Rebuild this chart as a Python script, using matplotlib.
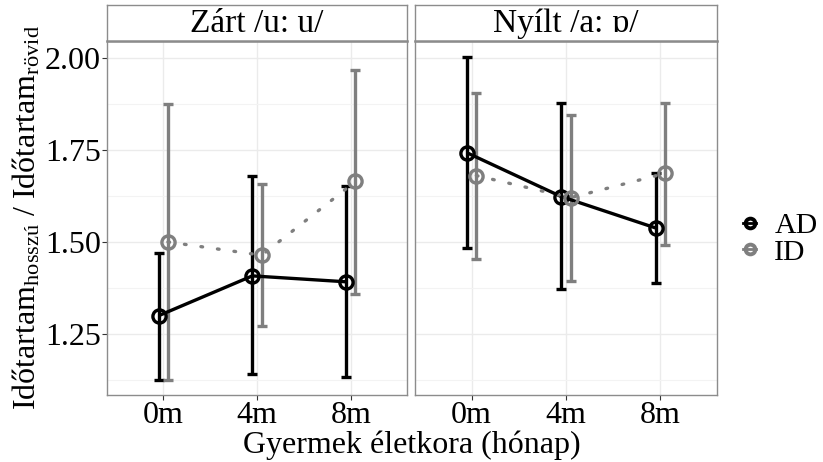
import matplotlib
matplotlib.use("Agg")
import matplotlib.pyplot as plt
from matplotlib.lines import Line2D
import numpy as np

plt.rcParams['font.family'] = ['Liberation Serif', 'DejaVu Serif']
plt.rcParams['mathtext.fontset'] = 'custom'
plt.rcParams['mathtext.rm'] = 'Liberation Serif'
plt.rcParams['mathtext.it'] = 'Liberation Serif:italic'

ages = ["0m", "4m", "8m"]
panels = ["Zárt /u: u/", "Nyílt /a: ɒ/"]
groups = ["AD", "ID"]

# Zárt
zart_AD_mean = [1.30, 1.408, 1.392]
zart_AD_lo = [1.125, 1.142, 1.134]
zart_AD_hi = [1.470, 1.680, 1.653]
zart_ID_mean = [1.50, 1.464, 1.664]
zart_ID_lo = [1.125, 1.272, 1.360]
zart_ID_hi = [1.874, 1.657, 1.967]
# Nyílt
nyilt_AD_mean = [1.742, 1.623, 1.538]
nyilt_AD_lo = [1.484, 1.373, 1.390]
nyilt_AD_hi = [2.001, 1.878, 1.686]
nyilt_ID_mean = [1.680, 1.620, 1.686]
nyilt_ID_lo = [1.454, 1.395, 1.493]
nyilt_ID_hi = [1.905, 1.845, 1.878]

data = [
    {"AD": (zart_AD_mean, zart_AD_lo, zart_AD_hi), "ID": (zart_ID_mean, zart_ID_lo, zart_ID_hi)},
    {"AD": (nyilt_AD_mean, nyilt_AD_lo, nyilt_AD_hi), "ID": (nyilt_ID_mean, nyilt_ID_lo, nyilt_ID_hi)},
]

colors = {"AD": "#000000", "ID": "#7F7F7F"}
styles = {"AD": "-", "ID": (0, (0.5, 4.5))}
offsets = {"AD": -0.05, "ID": 0.05}

W, H = 823, 462
fig = plt.figure(figsize=(W / 100, H / 100), dpi=100)

def fx(px):
    return px / W

def fy(py):
    return 1 - py / H

ax_top, ax_bot = 41, 395
strip_top = 5
lefts = [(107, 407), (415, 717)]

border = "#8C8C8C"
for i, (l, r) in enumerate(lefts):
    ax = fig.add_axes([fx(l), fy(ax_bot), fx(r - l), (ax_bot - ax_top) / H])
    ax.set_xlim(-0.6, 2.6)
    ax.set_ylim(1.085, 2.045)
    x = np.arange(len(ages))
    for g in groups:
        m, lo, hi = data[i][g]
        m = np.array(m); lo = np.array(lo); hi = np.array(hi)
        xs = x + offsets[g]
        ax.errorbar(xs, m, yerr=[m - lo, hi - m], fmt='none', ecolor=colors[g],
                    elinewidth=2.4, capsize=3.3, capthick=2.4, zorder=3)
        ax.plot(xs, m, linestyle=styles[g], color=colors[g], lw=2.4, zorder=4,
                solid_capstyle='butt', dash_capstyle='round')
        ax.plot(xs, m, linestyle='none', marker='o', ms=9.5, mfc='none',
                mec=colors[g], mew=2.4, zorder=5)
    ax.set_xticks(x)
    ax.set_xticklabels(ages)
    ax.set_yticks([1.25, 1.50, 1.75, 2.00])
    ax.set_yticks([1.125, 1.375, 1.625, 1.875], minor=True)
    ax.grid(True, which='major', color='#EBEBEB', lw=1.0, zorder=0)
    ax.grid(True, which='minor', axis='y', color='#F3F3F3', lw=0.8, zorder=0)
    ax.set_axisbelow(True)
    ax.tick_params(axis='both', which='major', labelsize=23, length=3.5,
                   color='#333333', width=0.8, pad=1)
    ax.tick_params(axis='both', which='minor', length=0)
    if i == 1:
        ax.set_yticklabels([])
        ax.tick_params(axis='y', which='major', length=0)
    for sp in ax.spines.values():
        sp.set_color(border)
        sp.set_linewidth(1.0)
    # strip
    sax = fig.add_axes([fx(l), fy(ax_top), fx(r - l), (ax_top - strip_top) / H])
    sax.set_xticks([]); sax.set_yticks([])
    for sp in sax.spines.values():
        sp.set_color(border)
        sp.set_linewidth(1.0)
    sax.spines['bottom'].set_linewidth(1.8)
    sax.text(0.5, 0.47, panels[i], ha='center', va='center', fontsize=24,
             transform=sax.transAxes)

fig.text(fx(412), fy(445), "Gyermek életkora (hónap)", ha='center', va='center',
         fontsize=23)
fig.text(fx(27), fy(218),
         r"Időtartam$_{\mathrm{hosszú}}$ / Időtartam$_{\mathrm{rövid}}$",
         ha='center', va='center', rotation=90, fontsize=23)

handles = [Line2D([], [], color=colors[g], lw=2.0, marker='o', ms=7, mfc='none',
                  mec=colors[g], mew=2.8) for g in groups]
fig.legend(handles, groups, loc='center left', bbox_to_anchor=(fx(737), fy(239)),
           frameon=False, fontsize=21.5, handlelength=0.45, handletextpad=0.6,
           labelspacing=0.0, borderaxespad=0, borderpad=0.2)

fig.savefig("out.png", dpi=100)
